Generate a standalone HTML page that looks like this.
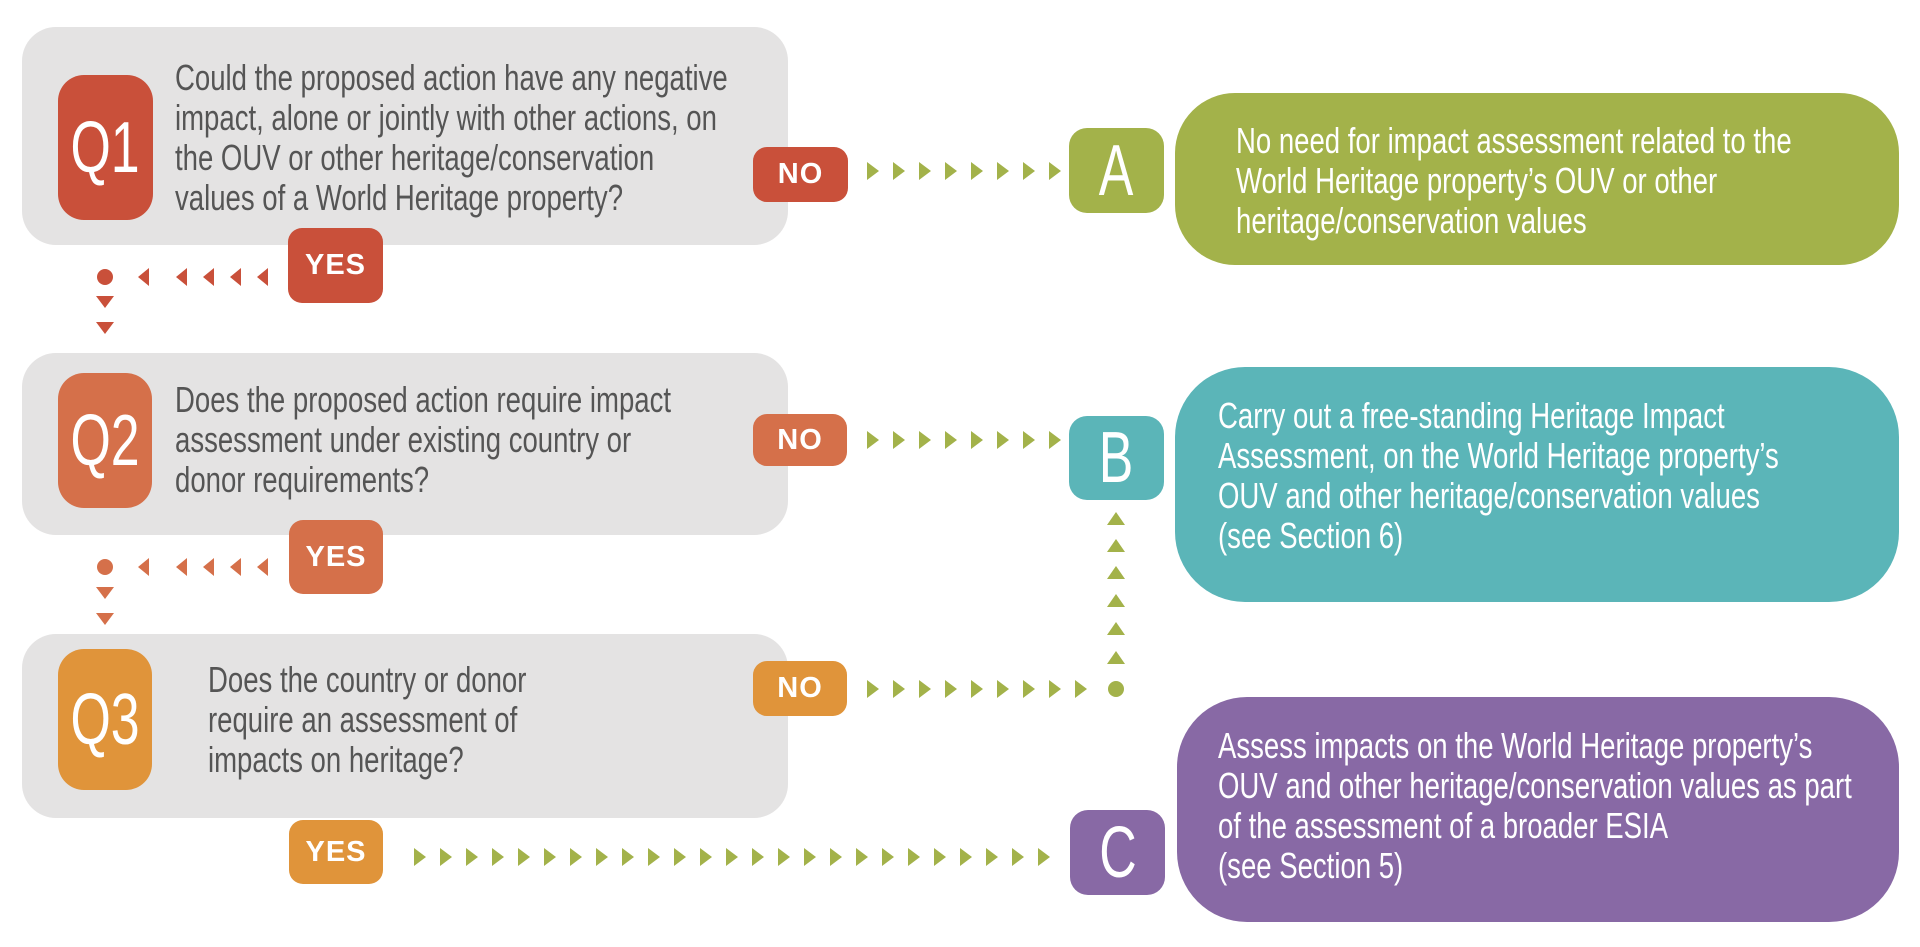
<!DOCTYPE html>
<html><head><meta charset="utf-8"><style>
html,body{margin:0;padding:0;background:#fff;}
body{width:1920px;height:947px;position:relative;overflow:hidden;font-family:"Liberation Sans",sans-serif;}
.abs{position:absolute;}
.t{position:absolute;white-space:nowrap;font-size:36px;line-height:40px;transform:scaleX(0.765);transform-origin:0 0;}
.q{color:#555;}
.w{color:#fff;}
.bd{position:absolute;display:flex;align-items:center;justify-content:center;color:#fff;font-size:72px;}
.bd span{display:inline-block;transform:scaleX(0.72);}
.lb{position:absolute;display:flex;align-items:center;justify-content:center;color:#fff;font-family:"Liberation Sans",sans-serif;font-weight:bold;font-size:29px;letter-spacing:1px;border-radius:14px;}
</style></head><body>
<svg class="abs" style="left:0;top:0" width="1920" height="947">
<rect x="22" y="27" width="766" height="218" rx="34" fill="#e4e3e3"/>
<rect x="22" y="353" width="766" height="182" rx="34" fill="#e4e3e3"/>
<rect x="22" y="634" width="766" height="184" rx="34" fill="#e4e3e3"/>
<rect x="1175" y="93" width="724" height="172" rx="60" fill="#a3b24a"/>
<rect x="1175" y="367" width="724" height="235" rx="70" fill="#5bb5b8"/>
<rect x="1177" y="697" width="722" height="225" rx="70" fill="#8869a5"/>
<g fill="#a3b24a">
<path d="M867,162 l12,9 l-12,9z M893,162 l12,9 l-12,9z M919,162 l12,9 l-12,9z M945,162 l12,9 l-12,9z M971,162 l12,9 l-12,9z M997,162 l12,9 l-12,9z M1023,162 l12,9 l-12,9z M1049,162 l12,9 l-12,9z"/>
<path d="M867,431 l12,9 l-12,9z M893,431 l12,9 l-12,9z M919,431 l12,9 l-12,9z M945,431 l12,9 l-12,9z M971,431 l12,9 l-12,9z M997,431 l12,9 l-12,9z M1023,431 l12,9 l-12,9z M1049,431 l12,9 l-12,9z"/>
<path d="M867,680 l12,9 l-12,9z M893,680 l12,9 l-12,9z M919,680 l12,9 l-12,9z M945,680 l12,9 l-12,9z M971,680 l12,9 l-12,9z M997,680 l12,9 l-12,9z M1023,680 l12,9 l-12,9z M1049,680 l12,9 l-12,9z M1075,680 l12,9 l-12,9z"/>
<circle cx="1116" cy="689" r="8"/>
<path d="M1116,512 l9,13 l-18,0z M1116,539 l9,13 l-18,0z M1116,566 l9,13 l-18,0z M1116,594 l9,13 l-18,0z M1116,622 l9,13 l-18,0z M1116,651 l9,13 l-18,0z"/>
<path d="M414,848 l12,9 l-12,9z M440,848 l12,9 l-12,9z M466,848 l12,9 l-12,9z M492,848 l12,9 l-12,9z M518,848 l12,9 l-12,9z M544,848 l12,9 l-12,9z M570,848 l12,9 l-12,9z M596,848 l12,9 l-12,9z M622,848 l12,9 l-12,9z M648,848 l12,9 l-12,9z M674,848 l12,9 l-12,9z M700,848 l12,9 l-12,9z M726,848 l12,9 l-12,9z M752,848 l12,9 l-12,9z M778,848 l12,9 l-12,9z M804,848 l12,9 l-12,9z M830,848 l12,9 l-12,9z M856,848 l12,9 l-12,9z M882,848 l12,9 l-12,9z M908,848 l12,9 l-12,9z M934,848 l12,9 l-12,9z M960,848 l12,9 l-12,9z M986,848 l12,9 l-12,9z M1012,848 l12,9 l-12,9z M1038,848 l12,9 l-12,9z"/>
</g>
<g fill="#c9503a">
<circle cx="105" cy="277" r="8"/>
<path d="M138,277 l11,-9 l0,18z M176,277 l11,-9 l0,18z M203,277 l11,-9 l0,18z M230,277 l11,-9 l0,18z M257,277 l11,-9 l0,18z"/>
<path d="M96,296 l18,0 l-9,12z M96,322 l18,0 l-9,12z"/>
</g>
<g fill="#d5704a">
<circle cx="105" cy="567" r="8"/>
<path d="M138,567 l11,-9 l0,18z M176,567 l11,-9 l0,18z M203,567 l11,-9 l0,18z M230,567 l11,-9 l0,18z M257,567 l11,-9 l0,18z"/>
<path d="M96,587 l18,0 l-9,12z M96,613 l18,0 l-9,12z"/>
</g>
</svg>

<div class="bd" style="left:58px;top:75px;width:95px;height:145px;background:#c9503a;border-radius:26px;"><span>Q1</span></div>
<div class="bd" style="left:58px;top:373px;width:94px;height:135px;background:#d5704a;border-radius:26px;"><span>Q2</span></div>
<div class="bd" style="left:58px;top:649px;width:94px;height:141px;background:#e0943a;border-radius:26px;"><span>Q3</span></div>

<div class="t q" style="left:175px;top:58px;">Could the proposed action have any negative<br>impact, alone or jointly with other actions, on<br>the OUV or other heritage/conservation<br>values of a World Heritage property?</div>
<div class="t q" style="left:175px;top:380px;">Does the proposed action require impact<br>assessment under existing country or<br>donor requirements?</div>
<div class="t q" style="left:208px;top:660px;">Does the country or donor<br>require an assessment of<br>impacts on heritage?</div>

<div class="lb" style="left:753px;top:147px;width:95px;height:55px;background:#c9503a;">NO</div>
<div class="lb" style="left:288px;top:228px;width:95px;height:75px;background:#c9503a;">YES</div>
<div class="lb" style="left:753px;top:414px;width:94px;height:52px;background:#d5704a;">NO</div>
<div class="lb" style="left:289px;top:520px;width:94px;height:74px;background:#d5704a;">YES</div>
<div class="lb" style="left:753px;top:661px;width:94px;height:55px;background:#e0943a;">NO</div>
<div class="lb" style="left:289px;top:820px;width:94px;height:64px;background:#e0943a;">YES</div>

<div class="bd" style="left:1069px;top:128px;width:95px;height:85px;background:#a3b24a;border-radius:18px;"><span>A</span></div>
<div class="bd" style="left:1069px;top:416px;width:95px;height:84px;background:#5bb5b8;border-radius:18px;"><span>B</span></div>
<div class="bd" style="left:1070px;top:810px;width:95px;height:85px;background:#8869a5;border-radius:18px;"><span>C</span></div>

<div class="t w" style="left:1236px;top:121px;">No need for impact assessment related to the<br>World Heritage property’s OUV or other<br>heritage/conservation values</div>
<div class="t w" style="left:1218px;top:396px;">Carry out a free-standing Heritage Impact<br>Assessment, on the World Heritage property’s<br>OUV and other heritage/conservation values<br>(see Section 6)</div>
<div class="t w" style="left:1218px;top:726px;">Assess impacts on the World Heritage property’s<br>OUV and other heritage/conservation values as part<br>of the assessment of a broader ESIA<br>(see Section 5)</div>
</body></html>
